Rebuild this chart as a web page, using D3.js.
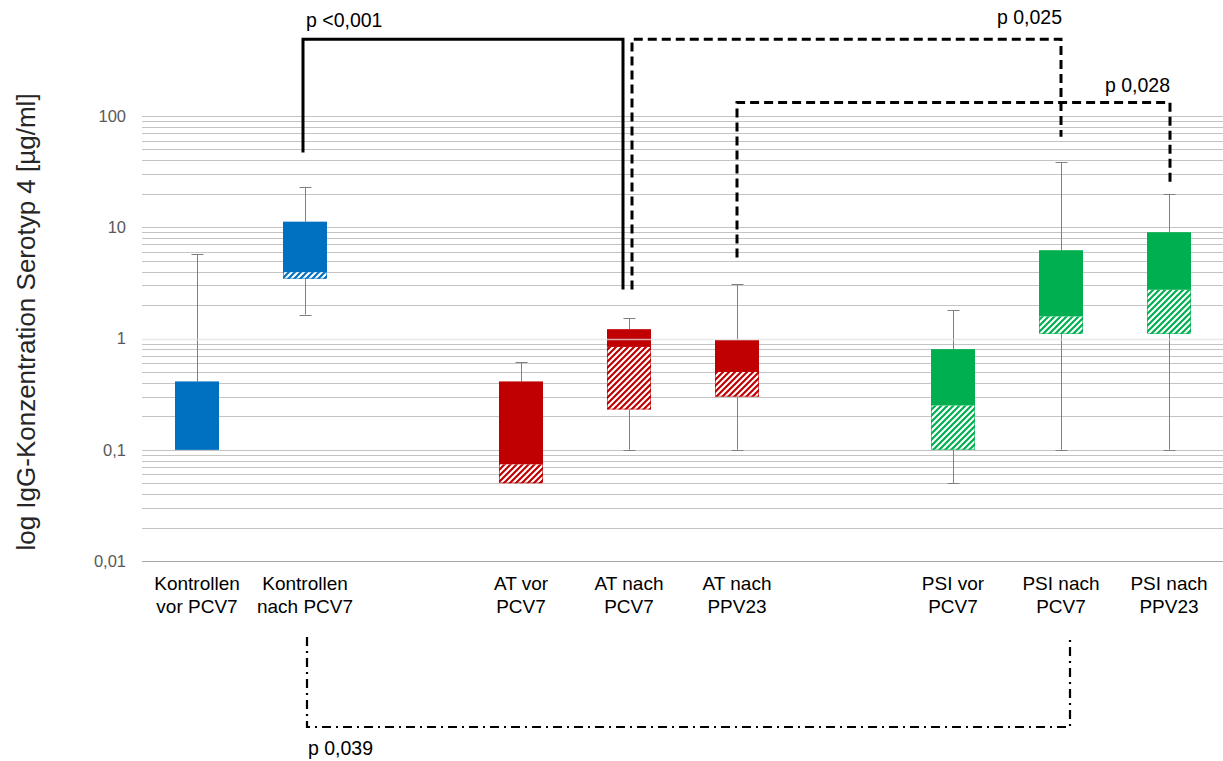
<!DOCTYPE html>
<html><head><meta charset="utf-8">
<script src="https://cdn.jsdelivr.net/npm/d3@7"></script>
<style>
html,body{margin:0;padding:0;background:#fff;}
svg{display:block;font-family:"Liberation Sans",Arial,sans-serif;}
</style></head>
<body>
<svg id="chart" width="1223" height="761"></svg>
<script>
// ---- data ----
const slots = ["K0","K1","gap1","AT0","AT1","AT2","gap2","PSI0","PSI1","PSI2"];
const labelLine1 = ["Kontrollen","Kontrollen","","AT vor","AT nach","AT nach","","PSI vor","PSI nach","PSI nach"];
const labelLine2 = ["vor PCV7","nach PCV7","","PCV7","PCV7","PPV23","","PCV7","PCV7","PPV23"];
const groupColor = ["blue","blue",null,"red","red","red",null,"green","green","green"];
const minV   = [0.1, 1.64, null, 0.05, 0.1,  0.1,   null, 0.05, 0.1,  0.1];
const q1V    = [0.1, 3.44, null, 0.05, 0.23, 0.30,  null, 0.1,  1.10, 1.10];
const medV   = [0.1, 3.95, null, 0.074,0.84, 0.50,  null, 0.25, 1.58, 2.74];
const q3V    = [0.41,11.2, null, 0.41, 1.21, 0.965, null, 0.80, 6.2,  9.0];
const maxV   = [5.7, 23.1, null, 0.61, 1.52, 3.06,  null, 1.8,  38.3, 20];
const tickValues = [0.01, 0.1, 1, 10, 100];
const tickLabels = ["0,01", "0,1", "1", "10", "100"];
const yTitle = "log IgG-Konzentration Serotyp 4 [µg/ml]";
// significance brackets
const sigLabels = ["p <0,001", "p 0,025", "p 0,028", "p 0,039"];
const sigFrom = [1, 4, 5, 1];
const sigTo   = [4, 8, 9, 8];
const sigFromLevel = [47, 2.76, 5.35, null];
const sigToLevel   = [2.76, 65, 24.8, null];
const sigTopLevel  = [490, 490, 132, null];

// ---- layout ----
const colors = {blue:"#0070C0", red:"#C00000", green:"#00B050"};
const svg = d3.select("#chart");
const plotLeft = 143, plotRight = 1223, plotTop = 116, plotBottom = 561;

const x = d3.scaleBand().domain(slots).range([plotLeft, plotRight]).padding(0);
const y = d3.scaleLog().domain([0.01, 100]).range([plotBottom, plotTop]);
const cx = i => x(slots[i]) + x.bandwidth()/2;
const boxW = 44;

// hatch patterns
const defs = svg.append("defs");
Object.entries(colors).forEach(([k,c]) => {
  const p = defs.append("pattern").attr("id","hatch-"+k)
    .attr("patternUnits","userSpaceOnUse").attr("width",6).attr("height",6);
  p.append("rect").attr("width",6).attr("height",6).attr("fill",c);
  p.append("path").attr("d","M-1,7 L7,-1 M-4,4 L4,-4 M2,10 L10,2")
    .attr("stroke","#fff").attr("stroke-width",2.1);
});

// gridlines
const gridVals = [];
for (let e = -2; e < 2; e++) for (let m = 1; m <= 9; m++) gridVals.push(m * Math.pow(10, e));
gridVals.push(100);
const grid = svg.append("g");
grid.selectAll("line").data(gridVals.filter(v => v !== 1 && v !== 0.01)).join("line")
  .attr("x1", plotLeft - 1).attr("x2", plotRight)
  .attr("y1", d => Math.round(y(d)) + 0.5).attr("y2", d => Math.round(y(d)) + 0.5)
  .attr("stroke", "#c4c4c4").attr("stroke-width", 1);
svg.append("line").attr("x1", plotLeft - 1).attr("x2", plotRight)
  .attr("y1", Math.round(y(0.01)) + 0.5).attr("y2", Math.round(y(0.01)) + 0.5)
  .attr("stroke", "#a6a6a6");

// y tick labels
svg.append("g").selectAll("text").data(tickValues).join("text")
  .attr("x", 126).attr("y", d => y(d)).attr("dy", "0.35em")
  .attr("text-anchor", "end").attr("font-size", 16.5).attr("fill", "#595959")
  .text((d, i) => tickLabels[i]);

// y title
svg.append("text").attr("transform", `translate(35,322) rotate(-90)`)
  .attr("text-anchor", "middle").attr("font-size", 26).attr("fill", "#262626")
  .text(yTitle);

const idx = slots.map((s, i) => i).filter(i => groupColor[i]);

// whiskers
const wg = svg.append("g").attr("stroke", "#808080").attr("stroke-width", 1);
idx.forEach(i => {
  const xc = Math.round(cx(i)) + 0.5;
  wg.append("line").attr("x1", xc).attr("x2", xc).attr("y1", y(q3V[i])).attr("y2", y(maxV[i]));
  wg.append("line").attr("x1", xc - 6).attr("x2", xc + 6).attr("y1", Math.round(y(maxV[i])) + 0.5).attr("y2", Math.round(y(maxV[i])) + 0.5);
  if (minV[i] < q1V[i]) {
    wg.append("line").attr("x1", xc).attr("x2", xc).attr("y1", y(q1V[i])).attr("y2", y(minV[i]));
    wg.append("line").attr("x1", xc - 6).attr("x2", xc + 6).attr("y1", Math.round(y(minV[i])) + 0.5).attr("y2", Math.round(y(minV[i])) + 0.5);
  }
});

// boxes
const bg = svg.append("g");
idx.forEach(i => {
  const c = groupColor[i];
  const x0 = cx(i) - boxW/2;
  bg.append("rect").attr("x", x0).attr("width", boxW)
    .attr("y", y(medV[i])).attr("height", Math.max(0, y(q1V[i]) - y(medV[i])))
    .attr("fill", `url(#hatch-${c})`);
  bg.append("rect").attr("x", x0).attr("width", boxW)
    .attr("y", y(q3V[i])).attr("height", Math.max(0, y(medV[i]) - y(q3V[i])))
    .attr("fill", colors[c]);
  bg.append("rect").attr("x", x0 + 0.5).attr("width", boxW - 1)
    .attr("y", y(q3V[i]) + 0.5).attr("height", Math.max(0, y(q1V[i]) - y(q3V[i]) - 1))
    .attr("fill", "none").attr("stroke", colors[c]).attr("stroke-opacity", 0.6);
});

// light gridline at 1 drawn over the boxes
svg.append("line").attr("x1", plotLeft - 1).attr("x2", plotRight)
  .attr("y1", Math.round(y(1)) + 0.5).attr("y2", Math.round(y(1)) + 0.5)
  .attr("stroke", "#e0e0e0").attr("stroke-opacity", 0.75).attr("stroke-width", 1.5);

// category labels
const lg = svg.append("g").attr("font-size", 19).attr("fill", "#000").attr("text-anchor", "middle");
slots.forEach((s, i) => {
  if (!labelLine1[i]) return;
  lg.append("text").attr("x", cx(i)).attr("y", 590).text(labelLine1[i]);
  lg.append("text").attr("x", cx(i)).attr("y", 613).text(labelLine2[i]);
});

// significance brackets
const br = svg.append("g").attr("fill", "none").attr("stroke", "#000");
br.append("path").attr("stroke-width", 3)
  .attr("d", `M${cx(sigFrom[0]) - 2},${y(sigFromLevel[0])} V${y(sigTopLevel[0])} H${cx(sigTo[0]) - 6} V${y(sigToLevel[0])}`);
br.append("path").attr("stroke-width", 3).attr("stroke-dasharray", "9,5")
  .attr("d", `M${cx(sigFrom[1]) + 3},${y(sigFromLevel[1])} V${y(sigTopLevel[1])} H${cx(sigTo[1])} V${y(sigToLevel[1])}`);
br.append("path").attr("stroke-width", 3).attr("stroke-dasharray", "9,5")
  .attr("d", `M${cx(sigFrom[2])},${y(sigFromLevel[2])} V${y(sigTopLevel[2])} H${cx(sigTo[2]) + 1} V${y(sigToLevel[2])}`);
br.append("path").attr("stroke-width", 2.2).attr("stroke-dasharray", "9,5,2,5")
  .attr("d", `M${cx(sigFrom[3]) + 2},${plotBottom + 76} V${plotBottom + 166} H${cx(sigTo[3]) + 9} V${plotBottom + 76}`);

const tg = svg.append("g").attr("font-size", 19.5).attr("fill", "#000");
tg.append("text").attr("x", cx(sigFrom[0]) + 1).attr("y", 27).text(sigLabels[0]);
tg.append("text").attr("x", cx(sigTo[1]) + 1).attr("y", 24).attr("text-anchor", "end").text(sigLabels[1]);
tg.append("text").attr("x", cx(sigTo[2]) + 1).attr("y", 92).attr("text-anchor", "end").text(sigLabels[2]);
tg.append("text").attr("x", cx(sigFrom[3]) + 3).attr("y", 755).text(sigLabels[3]);
</script>
</body></html>
